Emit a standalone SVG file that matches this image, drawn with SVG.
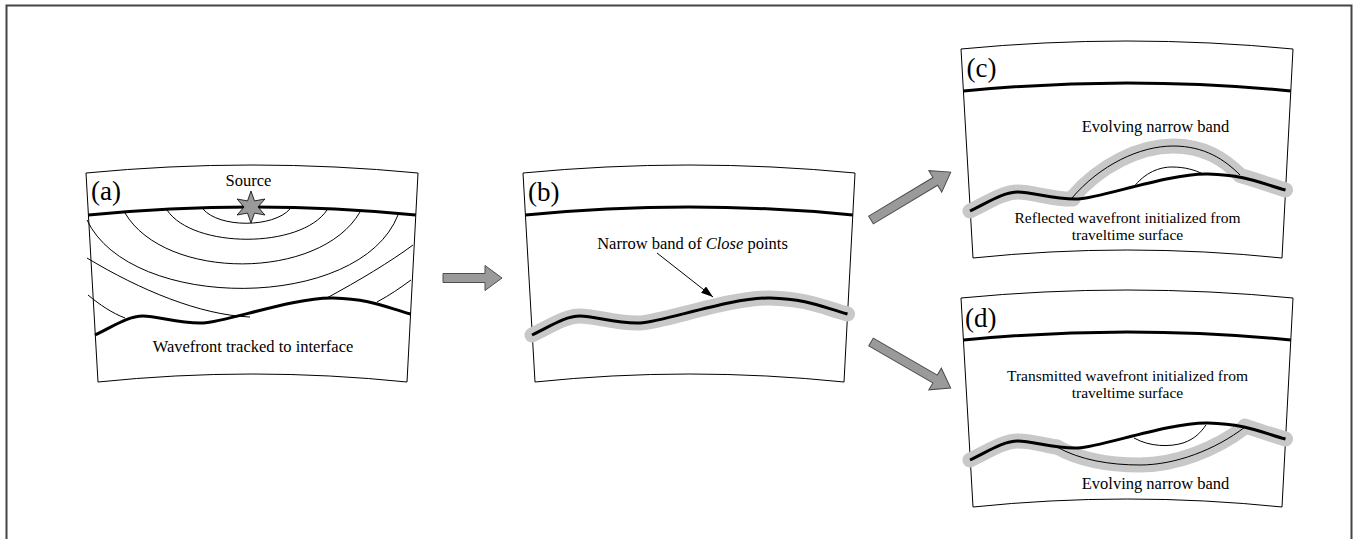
<svg xmlns="http://www.w3.org/2000/svg" width="1356" height="539" viewBox="0 0 1356 539">
<style>
.frame{fill:#fff;stroke:#000;stroke-width:1}
.thick{fill:none;stroke:#000;stroke-width:3}
.thin{fill:none;stroke:#000;stroke-width:1}
.band{fill:none;stroke:#c8c8c8;stroke-width:15;stroke-linecap:round;stroke-linejoin:round}
.lbl{font-family:"Liberation Serif","Times New Roman",serif;font-size:27px;fill:#000}
.txt{font-family:"Liberation Serif","Times New Roman",serif;font-size:16.5px;text-anchor:middle;fill:#000}
.txt2{font-family:"Liberation Serif","Times New Roman",serif;font-size:15.5px;text-anchor:middle;fill:#000}
.big{fill:#9a9a9a;stroke:#4d4d4d;stroke-width:1}
.ptr{fill:none;stroke:#000;stroke-width:1}
</style>
<defs>
<path id="frame" d="M86,173 Q252,157 418,173 L407,382 Q252,366 98,382 Z"/>
<path id="top" d="M88.5,215 Q252,199 415.8,215"/>
<path id="iface" d="M95,335 C112,327 128,316 143,316 S180,324 203,323 S295,297 333,298 S385,307 410.5,314"/>
<marker id="ah" viewBox="0 0 12 8" refX="12" refY="4" markerWidth="12" markerHeight="8" orient="auto" markerUnits="userSpaceOnUse">
<path d="M0,0 L12,4 L0,8 Z" fill="#000"/>
</marker>
</defs>
<rect width="1356" height="539" fill="#fff"/>
<path d="M6.5,539 V5.5 H1351.5 V539" fill="none" stroke="#444" stroke-width="2"/>

<g id="panel-a">
<use href="#frame" class="frame"/>
<path class="thin" d="M203,209 C219,228 273,228 290,209"/>
<path class="thin" d="M167,210 C193,249 301,249 327,210"/>
<path class="thin" d="M125,213 C165,281 320,281 360,212"/>
<path class="thin" d="M87,220 C130,312 360,312 398,215"/>
<path class="thin" d="M87,258 C140,290 200,315 250,317"/>
<path class="thin" d="M325,299 C360,280 390,262 413,245"/>
<path class="thin" d="M88,295 C100,305 112,313 125,318"/>
<path class="thin" d="M377,302 C390,295 400,288 411,280"/>
<use href="#top" class="thick"/>
<use href="#iface" class="thick"/>
<polygon points="251,191 254.5,200.9 264.9,199 258,207 264.9,215 254.5,213.1 251,223 247.5,213.1 237.1,215 244,207 237.1,199 247.5,200.9" fill="#9a9a9a" stroke="#000" stroke-width="0.8"/>
<text class="lbl" x="91" y="200">(a)</text>
<text class="txt" x="248.5" y="186">Source</text>
<text class="txt" x="253" y="352">Wavefront tracked to interface</text>
</g>

<g id="panel-b">
<g transform="translate(437,0)">
<use href="#frame" class="frame"/>
<use href="#top" class="thick"/>
<use href="#iface" class="band"/>
<use href="#iface" class="thick"/>
</g>
<text class="lbl" x="528" y="200.5">(b)</text>
<text class="txt" x="692.5" y="248.5">Narrow band of <tspan font-style="italic">Close</tspan> points</text>
</g>

<g id="panel-c">
<g transform="translate(875,-124)">
<use href="#frame" class="frame"/>
<use href="#top" class="thick"/>
<path class="band" d="M95,335 C112,327 128,316 143,316 C158,316 180,324 198,323"/>
<path class="band" d="M197,322 C225,289 265,270 298,270 C330,270 350,284 365,299"/>
<path class="band" d="M365,299.5 C385,305 400,311 410.5,314"/>
<path class="thin" d="M197,322 C225,289 265,270 298,270 C330,270 350,284 365,299"/>
<path class="thin" d="M258,312 C270,296 285,291 297,291 C310,291 320,294 328,298"/>
<use href="#iface" class="thick"/>
</g>
<text class="lbl" x="966.5" y="76.5">(c)</text>
<text class="txt" x="1155.5" y="131.5">Evolving narrow band</text>
<text class="txt2" x="1127.5" y="222.5">Reflected wavefront initialized from</text>
<text class="txt2" x="1127.5" y="240">traveltime surface</text>
</g>

<g id="panel-d">
<g transform="translate(875,125)">
<use href="#frame" class="frame"/>
<use href="#top" class="thick"/>
<path class="band" d="M95,335 C112,327 128,316 143,316 C158,316 172,321 182,322"/>
<path class="band" d="M182,322 C205,335 235,340 265,340 C300,340 340,325 370,302"/>
<path class="band" d="M370,301 C385,306 400,311 410.5,314"/>
<path class="thin" d="M182,322 C205,335 235,340 265,340 C300,340 340,325 370,302"/>
<path class="thin" d="M259,313 C275,322 295,322 308,318 C320,314 326,307 331,300"/>
<use href="#iface" class="thick"/>
</g>
<text class="lbl" x="965" y="326.5">(d)</text>
<text class="txt2" x="1127.5" y="380.5">Transmitted wavefront initialized from</text>
<text class="txt2" x="1127.5" y="398">traveltime surface</text>
<text class="txt" x="1155.5" y="489">Evolving narrow band</text>
</g>

<g id="connectors">
<path class="big" transform="translate(443,278)" d="M0,-4.5 H42 V-12.5 L59,0 L42,12.5 V4.5 H0 Z"/>
<path class="big" transform="translate(871,220) rotate(-31)" d="M0,-4.5 H75 V-12.5 L93,0 L75,12.5 V4.5 H0 Z"/>
<path class="big" transform="translate(871,342) rotate(30)" d="M0,-4.5 H74 V-12.5 L92,0 L74,12.5 V4.5 H0 Z"/>
<path class="ptr" d="M657,253 L713,297" marker-end="url(#ah)"/>
</g>
</svg>
